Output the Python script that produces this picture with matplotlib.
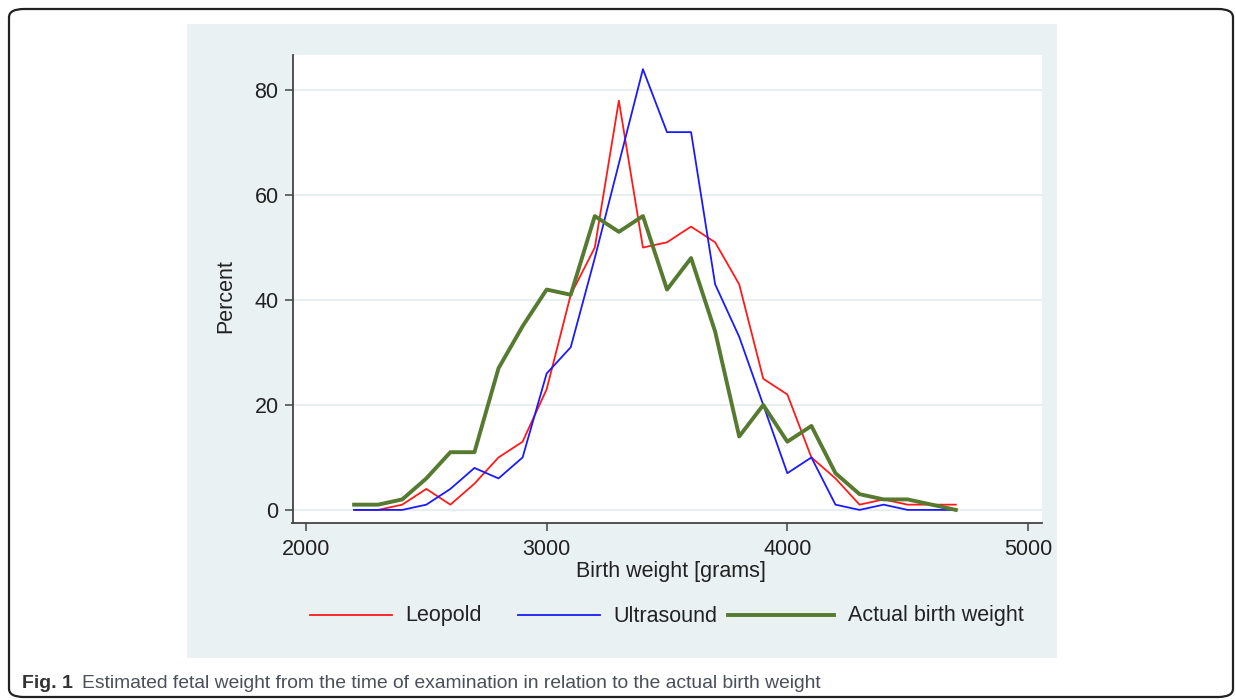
import matplotlib
matplotlib.use('Agg')
import matplotlib.pyplot as plt
from matplotlib.patches import FancyBboxPatch, Rectangle
from matplotlib.lines import Line2D

# birth weight bins (grams)
weights = [2200, 2300, 2400, 2500, 2600, 2700, 2800, 2900, 3000, 3100, 3200, 3300, 3400,
           3500, 3600, 3700, 3800, 3900, 4000, 4100, 4200, 4300, 4400, 4500, 4600, 4700]
leopold = [0, 0, 1, 4, 1, 5, 10, 13, 23, 41, 50, 78, 50,
           51, 54, 51, 43, 25, 22, 10, 6, 1, 2, 1, 1, 1]
ultrasound = [0, 0, 0, 1, 4, 8, 6, 10, 26, 31, 48, 66, 84,
              72, 72, 43, 33, 20, 7, 10, 1, 0, 1, 0, 0, 0]
actual = [1, 1, 2, 6, 11, 11, 27, 35, 42, 41, 56, 53, 56,
          42, 48, 34, 14, 20, 13, 16, 7, 3, 2, 2, 1, 0]
xticks = [2000, 3000, 4000, 5000]
yticks = [0, 20, 40, 60, 80]
labels = ['Leopold', 'Ultrasound', 'Actual birth weight']
colors = ['#ff1a1a', '#1a1aff', '#557a30']
widths = [1.3, 1.3, 2.8]

W, H = 1236, 700
FS = 15.5
plt.rcParams['font.family'] = ['Liberation Sans', 'DejaVu Sans']
fig = plt.figure(figsize=(W / 100, H / 100), dpi=100)

def fx(px):
    return px / W

def fy(py):
    return 1 - py / H

# outer rounded frame
fig.patches.append(FancyBboxPatch((fx(9), fy(697)), fx(1233) - fx(9), fy(9) - fy(697),
                                  boxstyle='round,pad=0,rounding_size=0.012',
                                  transform=fig.transFigure, fill=False,
                                  edgecolor='#222222', linewidth=1.6, zorder=-2))
# stata graph region
bg = '#eaf1f2'
fig.patches.append(Rectangle((fx(187), fy(658)), fx(1057) - fx(187), fy(24) - fy(658),
                             transform=fig.transFigure, facecolor=bg, edgecolor='none',
                             zorder=-1))

ax = fig.add_axes([fx(292.5), fy(522.5), fx(1041.5) - fx(292.5), fy(55) - fy(522.5)])
ax.set_facecolor('white')
for series, lab, c, lw in zip([leopold, ultrasound, actual], labels, colors, widths):
    ax.plot(weights, series, color=c, lw=lw, label=lab)

ax.set_xlim(1944, 5056)
ax.set_ylim(-2.4, 86.7)
ax.set_xticks(xticks)
ax.set_yticks(yticks)
for t in yticks:
    ax.axhline(t, color='#e6eef0', lw=1.3, zorder=0)
for s in ['top', 'right']:
    ax.spines[s].set_visible(False)
for s in ['left', 'bottom']:
    ax.spines[s].set_color('#444444')
    ax.spines[s].set_linewidth(1.3)
ax.tick_params(axis='both', length=6, width=1.1, color='#444444', labelsize=FS,
               labelcolor='#222222')
ax.tick_params(axis='x', pad=6)
ax.tick_params(axis='y', pad=4)

fig.text(fx(671), fy(572), 'Birth weight [grams]', ha='center', va='center',
         fontsize=FS, color='#222222')
fig.text(fx(226), fy(296), 'Percent', ha='center', va='center', rotation=90,
         fontsize=FS, color='#222222')

# legend row below the plot (keys + labels, baseline aligned)
key_x = [(310, 392, 405), (518, 600, 613), (728, 834, 848)]
for (x0, x1, tx), lab, c, lw in zip(key_x, labels, colors, widths):
    fig.add_artist(Line2D([fx(x0), fx(x1)], [fy(615), fy(615)], color=c, lw=lw,
                          transform=fig.transFigure))
    fig.text(fx(tx), fy(621.5), lab, fontsize=FS, color='#222222', va='baseline')

fig.text(fx(22), fy(683), 'Fig. 1', fontweight='bold', fontsize=14, color='#333333',
         va='center')
fig.text(fx(82), fy(683), 'Estimated fetal weight from the time of examination in relation to the actual birth weight',
         fontsize=13.9, color='#4a4f5a', va='center')

fig.savefig('out.png', dpi=100, facecolor='white')
